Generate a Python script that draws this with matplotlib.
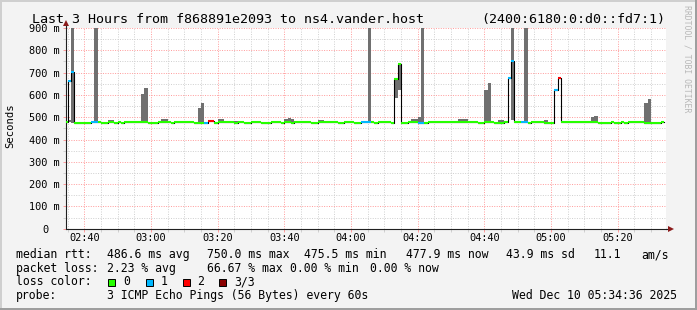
import numpy as np
import pandas as pd
import matplotlib
matplotlib.use('Agg')
import matplotlib.pyplot as plt
import matplotlib.dates as mdates
from matplotlib.patches import Rectangle
from matplotlib.ticker import MultipleLocator

# median rtt per minute [ms], first sample is 02:34
median = [480, 661, 703, 475, 475, 475, 475, 475, 478, 478,
          480, 475, 475, 480, 480, 475, 480, 475, 480, 480,
          480, 480, 480, 480, 480, 475, 475, 475, 480, 480,
          480, 480, 475, 480, 480, 480, 480, 480, 480, 475,
          475, 475, 476, 481, 481, 475, 480, 480, 480, 480,
          480, 475, 480, 480, 475, 475, 480, 480, 480, 475,
          475, 475, 480, 480, 480, 475, 480, 480, 475, 480,
          480, 480, 480, 480, 475, 475, 480, 480, 480, 480,
          480, 480, 475, 475, 480, 480, 480, 475, 475, 477,
          477, 477, 480, 475, 480, 480, 480, 480, 475, 672,
          740, 475, 475, 480, 480, 480, 476, 476, 475, 480,
          480, 480, 480, 480, 480, 480, 480, 480, 480, 480,
          480, 480, 480, 480, 475, 475, 480, 480, 480, 475,
          475, 475, 480, 675, 750, 480, 480, 477, 477, 475,
          480, 480, 480, 480, 475, 475, 475, 622, 676, 480,
          480, 480, 480, 480, 480, 480, 480, 480, 480, 480,
          475, 475, 475, 475, 480, 475, 475, 480, 475, 480,
          480, 480, 480, 480, 475, 475, 475, 475, 475, 478]

# samples that lost 1 or 2 of 3 pings
loss1_at = [1, 2, 8, 9, 42, 89, 90, 91, 106, 107, 133, 134, 137, 138, 147]
loss2_at = [43, 44, 148]

# smoke (spread of the pings) per sample [ms]
smoke_at = [1, 2, 9, 13, 14, 23, 24, 29, 30, 40, 41, 46, 47, 51, 66, 67, 68,
            76, 77, 91, 99, 100, 103, 104, 105, 106, 107, 118, 119, 120,
            126, 127, 130, 131, 134, 138, 144, 158, 159, 174, 175]
smoke_lo = [477, 476, 478, 480, 480, 478, 478, 480, 480, 476, 476, 480, 480, 476, 480, 480, 476,
            480, 480, 477, 586, 621, 480, 480, 480, 476, 476, 480, 480, 480,
            478, 478, 475, 475, 489, 477, 475, 480, 480, 475, 475]
smoke_hi = [489, 900, 900, 489, 489, 603, 629, 490, 494, 543, 565, 490, 493, 485, 490, 497, 490,
            488, 488, 900, 669, 737, 485, 490, 490, 502, 900, 490, 494, 490,
            624, 655, 487, 487, 900, 900, 486, 501, 504, 565, 583]

y_ticks = [0, 100, 200, 300, 400, 500, 600, 700, 800, 900]
y_labels = ['', '100 m', '200 m', '300 m', '400 m', '500 m', '600 m', '700 m', '800 m', '900 m']

loss_names = ['0', '1', '2', '3/3']
loss_colors = ['#26ff00', '#00b8ff', '#ff0000', '#8a0000']

rtt_stats = ['486.6 ms avg', '750.0 ms max', '475.5 ms min', '477.9 ms now',
             '43.9 ms sd', '11.1', 'am/s']
loss_stats = ['2.23 % avg', '66.67 % max', '0.00 % min', '0.00 % now']

W, H = 697, 310
plt.rcParams['font.family'] = 'DejaVu Sans Mono'


def fx(x):
    return x / W


def fy(y):
    return 1 - y / H


median = np.array(median, dtype=float)
n = len(median)
loss = np.zeros(n, dtype=int)
loss[loss1_at] = 1
loss[loss2_at] = 2

edges = pd.date_range('2025-12-10 02:34', periods=n + 1, freq='min').to_pydatetime()
xe = mdates.date2num(edges)
step = xe[1] - xe[0]

fig = plt.figure(figsize=(W / 100, H / 100), dpi=100, facecolor='#f3f3f3')

# 3d frame
fig.add_artist(Rectangle((0, fy(2)), 1, 2 / H, transform=fig.transFigure, color='#cfcfcf', lw=0))
fig.add_artist(Rectangle((0, 0), 2 / W, 1, transform=fig.transFigure, color='#cfcfcf', lw=0))
fig.add_artist(Rectangle((0, 0), 1, 2 / H, transform=fig.transFigure, color='#9e9e9e', lw=0))
fig.add_artist(Rectangle((fx(W - 2), 0), 2 / W, 1, transform=fig.transFigure, color='#9e9e9e', lw=0))

ax = fig.add_axes([fx(66.3), fy(228.7), 600 / W, 200.7 / H])
ax.set_facecolor('white')
ax.set_axisbelow(True)

# smoke
lo = np.array(smoke_lo, dtype=float)
hi = np.array(smoke_hi, dtype=float)
ax.bar(xe[smoke_at], hi - lo, bottom=lo, width=step, align='edge',
       color='#707070', linewidth=0, antialiased=False, zorder=2)

# median line, black underneath, loss colours on top
ax.plot(xe, np.append(median, median[-1]), drawstyle='steps-post',
        color='black', lw=0.8, zorder=3)
for c in range(3):
    idx = np.where(loss == c)[0]
    ax.hlines(median[idx], xe[idx], xe[idx + 1], colors=loss_colors[c],
              lw=1.5, capstyle='butt', zorder=4)

ax.set_xlim(mdates.date2num(pd.Timestamp('2025-12-10 02:34:36')),
            mdates.date2num(pd.Timestamp('2025-12-10 05:34:36')))
ax.set_ylim(0, 900)

ax.xaxis.set_major_locator(mdates.MinuteLocator(byminute=[0, 20, 40]))
ax.xaxis.set_minor_locator(mdates.MinuteLocator(byminute=range(0, 60, 5)))
ax.xaxis.set_major_formatter(mdates.DateFormatter('%H:%M'))
ax.set_yticks(y_ticks)
ax.set_yticklabels(y_labels)
ax.yaxis.set_minor_locator(MultipleLocator(50))

ax.grid(which='major', color='#ff9a9a', linestyle=(0, (1, 1.5)), lw=0.7)
ax.grid(which='minor', color='#cfcfcf', linestyle=(0, (1, 1.5)), lw=0.7)
ax.tick_params(which='both', direction='out', length=2, width=0.7, labelsize=7.4)
ax.tick_params(which='major', color='#ff9a9a')
ax.tick_params(which='minor', color='#cfcfcf')
ax.tick_params(axis='x', pad=1.2)
ax.tick_params(axis='y', pad=3)
ax.text((45 - 66.3) / 600, 0, '0', transform=ax.get_yaxis_transform(),
        ha='center', va='center_baseline', fontsize=7.4)

for s in ['top', 'right']:
    ax.spines[s].set_visible(False)
for s in ['left', 'bottom']:
    ax.spines[s].set_color('#202020')
    ax.spines[s].set_linewidth(0.8)

# axis arrows
ax.plot([1, 1.006], [0, 0], transform=ax.transAxes, clip_on=False, color='#202020', lw=0.8)
ax.plot([1.008], [0], marker='>', ms=4, mew=0, color='#8b1a1a', transform=ax.transAxes, clip_on=False)
ax.plot([0, 0], [1, 1.02], transform=ax.transAxes, clip_on=False, color='#202020', lw=0.8)
ax.plot([0], [1.025], marker='^', ms=4, mew=0, color='#8b1a1a', transform=ax.transAxes, clip_on=False)

fig.text(fx(10), fy(126), 'Seconds', rotation=90, ha='center', va='center', fontsize=7.6)

# title
fig.text(fx(31.5), fy(23), 'Last 3 Hours from f868891e2093 to ns4.vander.host',
         ha='left', va='baseline', fontsize=9.6)
fig.text(fx(481), fy(23), '(2400:6180:0:d0::fd7:1)', ha='left', va='baseline', fontsize=9.6)
fig.text(fx(687), fy(59), 'RRDTOOL / TOBI OETIKER', rotation=270, ha='center', va='center',
         fontsize=5.9, color='#b8b8b8')

# legend block
lf = 8.3
fig.text(fx(15.5), fy(258.3), 'median rtt:', fontsize=lf, va='baseline')
for s, x in zip(rtt_stats, [107, 207, 303.5, 406.5, 506.5, 593.2, 641.5]):
    fig.text(fx(x), fy(258.3), s, fontsize=lf, va='baseline')

fig.text(fx(15.5), fy(271.6), 'packet loss:', fontsize=lf, va='baseline')
for s, x in zip(loss_stats, [107, 207, 290, 370]):
    fig.text(fx(x), fy(271.6), s, fontsize=lf, va='baseline')

fig.text(fx(15.5), fy(285.3), 'loss color:', fontsize=lf, va='baseline')
for name, col, bx, tx in zip(loss_names, loss_colors, [108.3, 145.7, 182.7, 219.3],
                             [122.8, 160.2, 196.8, 234.5]):
    fig.add_artist(Rectangle((fx(bx), fy(286)), 7 / W, 7.3 / H, transform=fig.transFigure,
                             facecolor=col, edgecolor='black', lw=0.7))
    fig.text(fx(tx), fy(285.3), name, fontsize=lf, va='baseline')

fig.text(fx(15.5), fy(299), 'probe:', fontsize=lf, va='baseline')
fig.text(fx(107), fy(299), '3 ICMP Echo Pings (56 Bytes) every 60s', fontsize=lf, va='baseline')
fig.text(fx(512.5), fy(299), 'Wed Dec 10 05:34:36 2025', fontsize=lf, va='baseline')

plt.savefig('out.png', dpi=100, facecolor=fig.get_facecolor())
